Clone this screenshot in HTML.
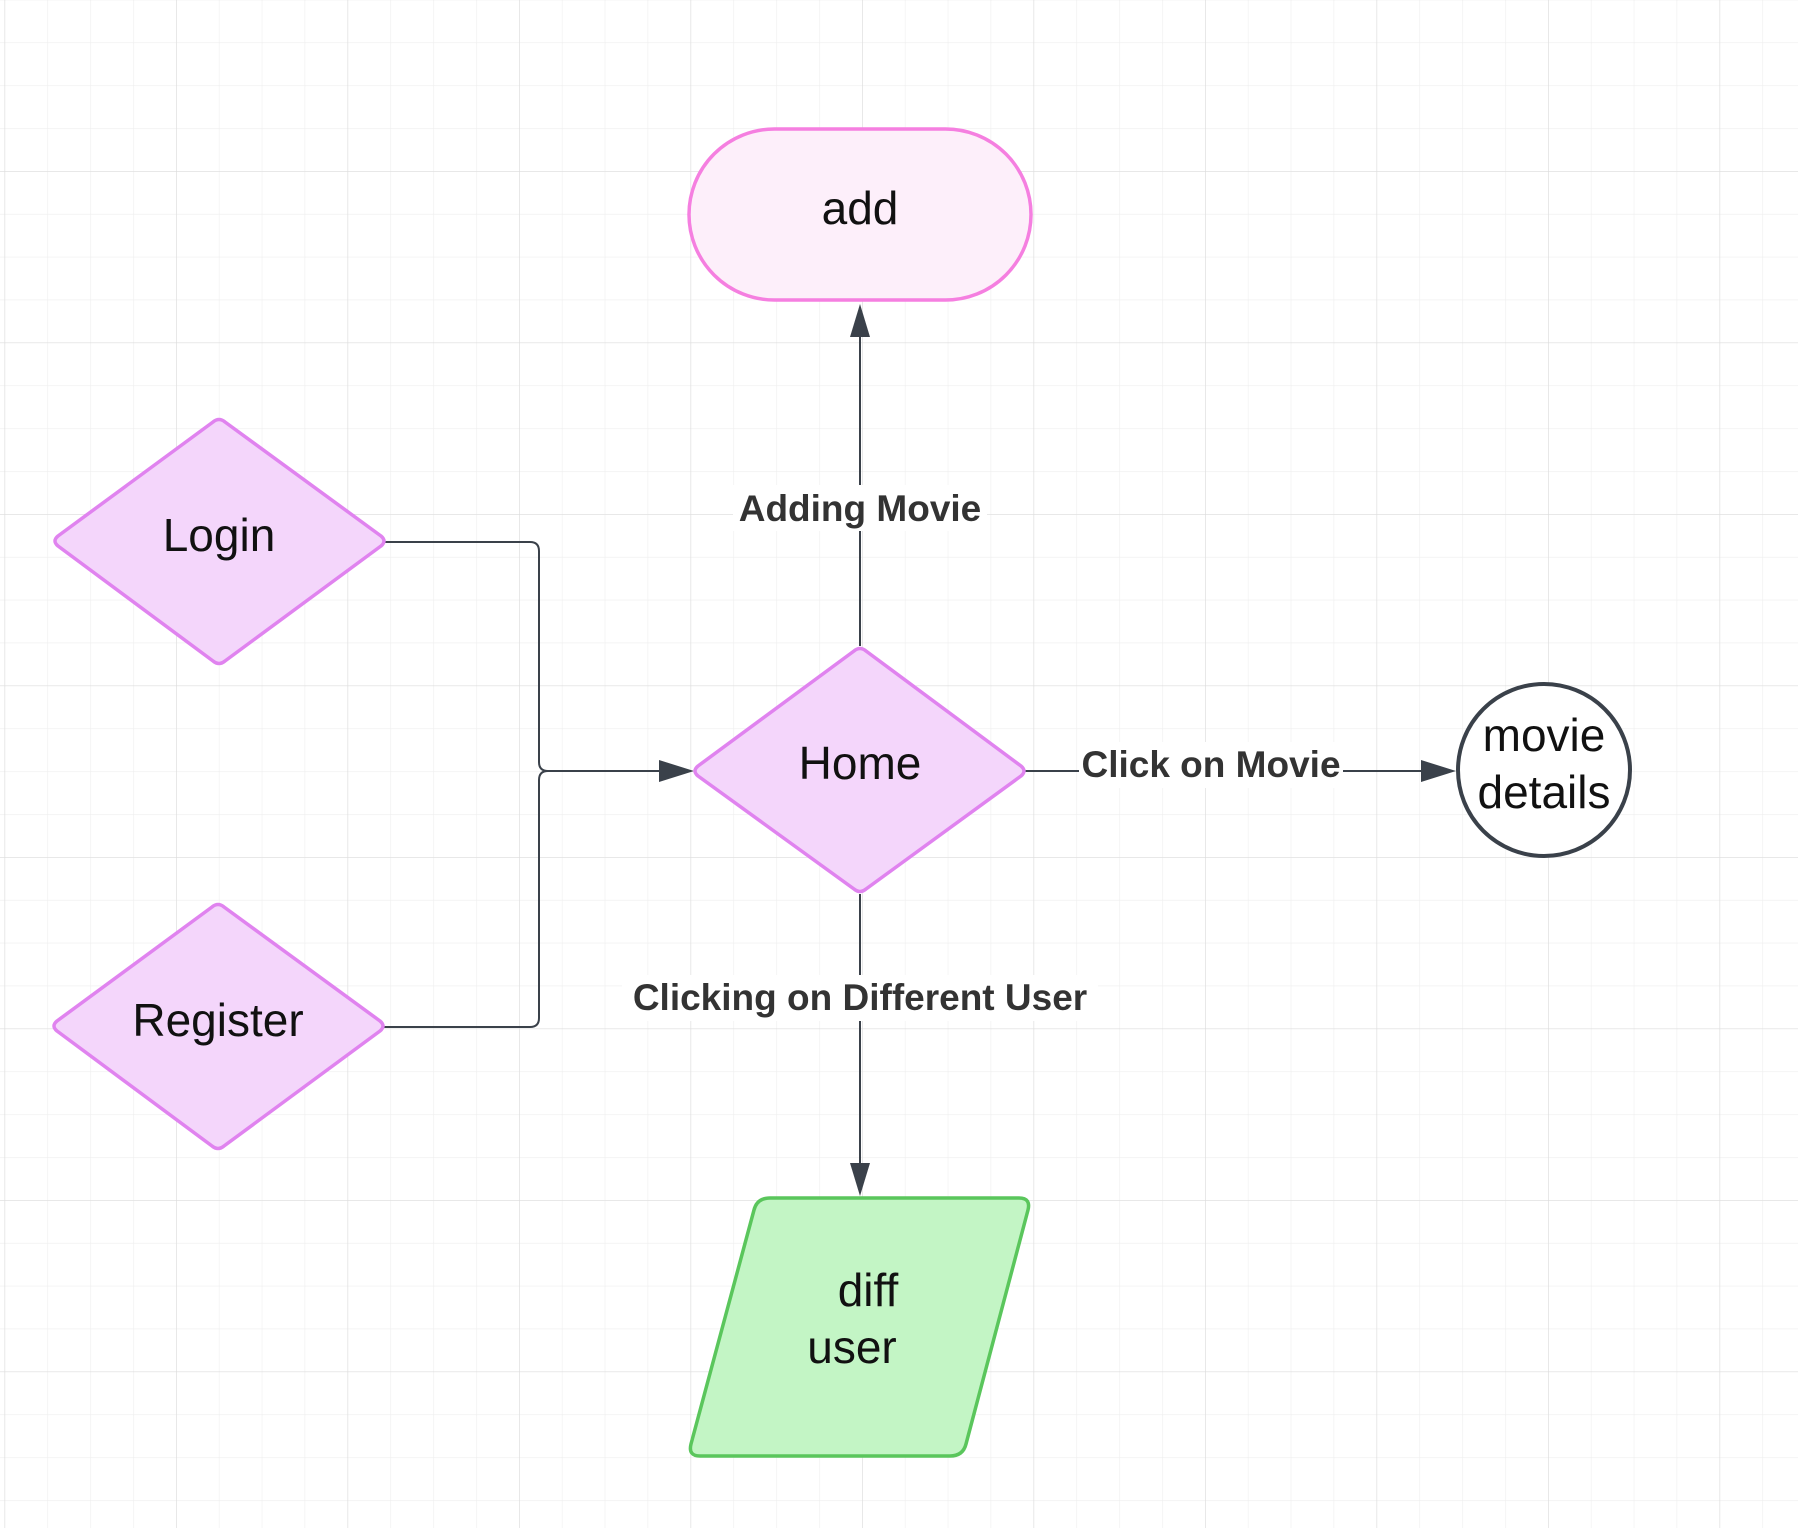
<!DOCTYPE html>
<html><head><meta charset="utf-8"><style>
html,body{margin:0;padding:0;background:#fff;}
svg{display:block;}
text{font-family:"Liberation Sans",sans-serif;}
</style></head><body>
<svg width="1798" height="1528" viewBox="0 0 1798 1528" xmlns="http://www.w3.org/2000/svg">
<defs>
<pattern id="minor" x="4.5" y="-0.5" width="42.875" height="42.875" patternUnits="userSpaceOnUse">
<path d="M0 0 V42.875 M0 0 H42.875" stroke="#eeeeee" stroke-width="1.2" fill="none"/>
</pattern>
<pattern id="major" x="4.5" y="-0.5" width="171.5" height="171.5" patternUnits="userSpaceOnUse">
<path d="M0 0 V171.5 M0 0 H171.5" stroke="#dddddd" stroke-width="1.3" fill="none"/>
</pattern>
</defs>
<rect width="1798" height="1528" fill="#fff"/>
<rect width="1798" height="1528" fill="url(#minor)"/>
<rect width="1798" height="1528" fill="url(#major)"/>

<g stroke="#3a414a" stroke-width="2" fill="none">
<path d="M860 646 V330"/>
<path d="M385 542 H530 Q539 542 539 551 V762 Q539 771 548 771 H665"/>
<path d="M384 1027 H530 Q539 1027 539 1018 V780 Q539 771 548 771"/>
<path d="M1025 771 H1425"/>
<path d="M860 894 V1165"/>
</g>
<g fill="#3a414a">
<polygon points="860,304 850,337 870,337"/>
<polygon points="694,771 659,760 659,782"/>
<polygon points="1456,771 1421,760 1421,782"/>
<polygon points="860,1196 850,1163 870,1163"/>
</g>

<rect x="733" y="485" width="254" height="46" fill="#fff"/>
<rect x="1079" y="742" width="264" height="46" fill="#fff"/>
<rect x="622" y="975" width="476" height="46" fill="#fff"/>
<g font-weight="bold" font-size="37" fill="#333" text-anchor="middle">
<text x="860" y="521">Adding Movie</text>
<text x="1211" y="777">Click on Movie</text>
<text x="860" y="1010">Clicking on Different User</text>
</g>

<rect x="689" y="129" width="342" height="171" rx="85.5" fill="#fdeffa" stroke="#f57fe0" stroke-width="3.5"/>
<text x="860" y="224" font-size="46" text-anchor="middle" fill="#111">add</text>

<g fill="#f4d6fb" stroke="#e083ef" stroke-width="3.5" stroke-linejoin="round">
<path d="M58 546 Q52 541 58 536 L213 422 Q219 417 225 422 L381 536 Q387 541 381 546 L225 661 Q219 666 213 661 Z"/>
<path d="M57 1031 Q51 1026 57 1021 L212 907 Q218 902 224 907 L380 1021 Q386 1026 380 1031 L224 1146 Q218 1151 212 1146 Z"/>
<path d="M698 776 Q692 771 698 766 L854 651 Q860 646 866 651 L1021 766 Q1027 771 1021 776 L866 889 Q860 894 854 889 Z"/>
</g>
<g font-size="46" text-anchor="middle" fill="#111">
<text x="219" y="551">Login</text>
<text x="218" y="1036">Register</text>
<text x="860" y="779">Home</text>
</g>

<circle cx="1544" cy="770" r="86" fill="#fff" stroke="#3a414a" stroke-width="4"/>
<g font-size="46" text-anchor="middle" fill="#111">
<text x="1544" y="751">movie</text>
<text x="1544" y="808">details</text>
</g>

<path d="M770 1198 H1019 Q1031 1198 1028 1210 L966 1444 Q963 1456 950 1456 H700 Q688 1456 691 1444 L754 1210 Q757 1198 770 1198 Z" fill="#c3f5c5" stroke="#5ac65c" stroke-width="3.5"/>
<g font-size="46" text-anchor="middle" fill="#111">
<text x="868" y="1306">diff</text>
<text x="852" y="1363">user</text>
</g>
</svg>
</body></html>
